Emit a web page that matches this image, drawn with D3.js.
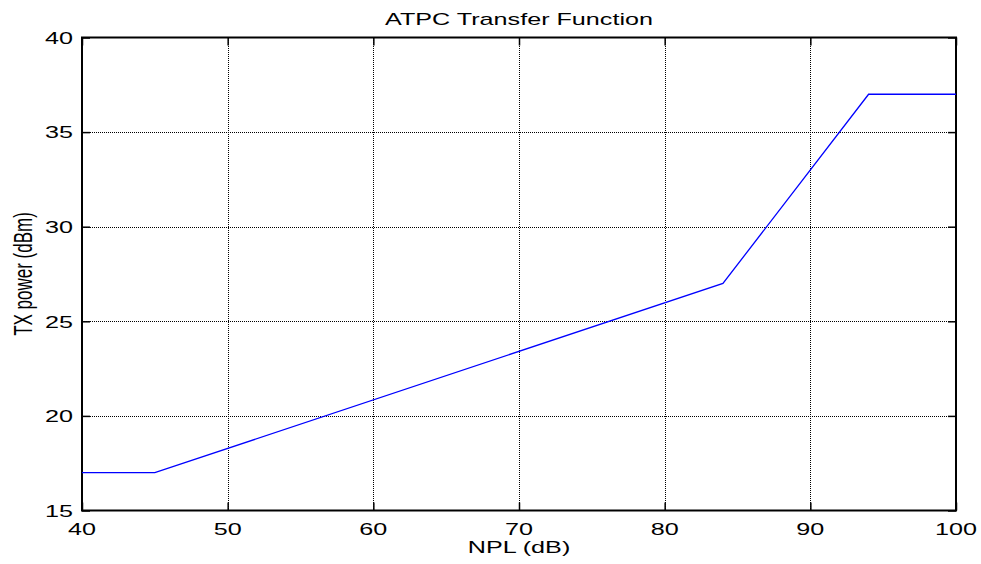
<!DOCTYPE html>
<html><head><meta charset="utf-8">
<script src="https://cdn.jsdelivr.net/npm/d3@7"></script>
<style>body{margin:0;background:#fff}text{font-family:"Liberation Sans",Arial,sans-serif;fill:#000}</style>
</head><body><svg id="c" width="981" height="564"></svg>
<script>
const npl = [40, 45, 84, 94, 100];
const txPower = [17, 17, 27, 37, 37];
const xTicks = [40, 50, 60, 70, 80, 90, 100];
const yTicks = [15, 20, 25, 30, 35, 40];

const svg = d3.select("#c");
const L = 82, R = 956, T = 37.5, B = 510.5;
const FS = 17, SX = 1.48; // text in the reference is stretched horizontally
const x = d3.scaleLinear().domain([40, 100]).range([L, R]);
const y = d3.scaleLinear().domain([15, 40]).range([B, T]);

svg.append("rect").attr("width",981).attr("height",564).attr("fill","#fff");

// dotted grid
svg.append("g").selectAll("line").data(xTicks.slice(1,-1)).join("line")
  .attr("x1", d=>Math.round(x(d))+0.5).attr("x2", d=>Math.round(x(d))+0.5).attr("y1", T).attr("y2", B)
  .attr("stroke","#000").attr("stroke-width",1).attr("stroke-dasharray","1,1").attr("shape-rendering","crispEdges");
svg.append("g").selectAll("line").data(yTicks.slice(1,-1)).join("line")
  .attr("y1", d=>Math.round(y(d))+0.5).attr("y2", d=>Math.round(y(d))+0.5).attr("x1", L).attr("x2", R)
  .attr("stroke","#000").attr("stroke-width",1).attr("stroke-dasharray","1,1").attr("shape-rendering","crispEdges");

// inward ticks on all four sides
function style(sel){
  sel.select(".domain").remove();
  sel.selectAll("line").attr("stroke","#000").attr("stroke-width",1.5);
  sel.selectAll("text").remove();
}
svg.append("g").attr("transform",`translate(0,${B})`).call(d3.axisBottom(x).tickValues(xTicks).tickSize(-8)).call(style);
svg.append("g").attr("transform",`translate(${L},0)`).call(d3.axisLeft(y).tickValues(yTicks).tickSize(-8)).call(style);
svg.append("g").attr("transform",`translate(0,${T})`).call(d3.axisTop(x).tickValues(xTicks).tickSize(-8)).call(style);
svg.append("g").attr("transform",`translate(${R},0)`).call(d3.axisRight(y).tickValues(yTicks).tickSize(-8)).call(style);

// tick labels
svg.append("g").selectAll("text").data(xTicks).join("text")
  .attr("transform", d=>`translate(${x(d)},${B+24}) scale(${SX},1)`)
  .attr("text-anchor","middle").attr("font-size",FS).text(d=>d);
svg.append("g").selectAll("text").data(yTicks).join("text")
  .attr("transform", d=>`translate(73,${y(d)+6.3}) scale(${SX},1)`)
  .attr("text-anchor","end").attr("font-size",FS).text(d=>d);

// frame
svg.append("rect").attr("x",L).attr("y",T).attr("width",R-L).attr("height",B-T)
  .attr("fill","none").attr("stroke","#000").attr("stroke-width",2);

// data line
const line = d3.line().x((d,i)=>x(npl[i])).y(d=>y(d));
svg.append("path").datum(txPower).attr("d",line).attr("fill","none")
  .attr("stroke","#0000ff").attr("stroke-width",1.3);

// titles
svg.append("text").attr("transform",`translate(${(L+R)/2},25) scale(${SX},1)`)
  .attr("text-anchor","middle").attr("font-size",FS).text("ATPC Transfer Function");
svg.append("text").attr("transform",`translate(${(L+R)/2},553) scale(${SX},1)`)
  .attr("text-anchor","middle").attr("font-size",FS).text("NPL (dB)");
svg.append("text").attr("transform",`translate(32,${(T+B)/2}) rotate(-90) scale(1,${SX})`)
  .attr("text-anchor","middle").attr("font-size",17).text("TX power (dBm)");
</script></body></html>
